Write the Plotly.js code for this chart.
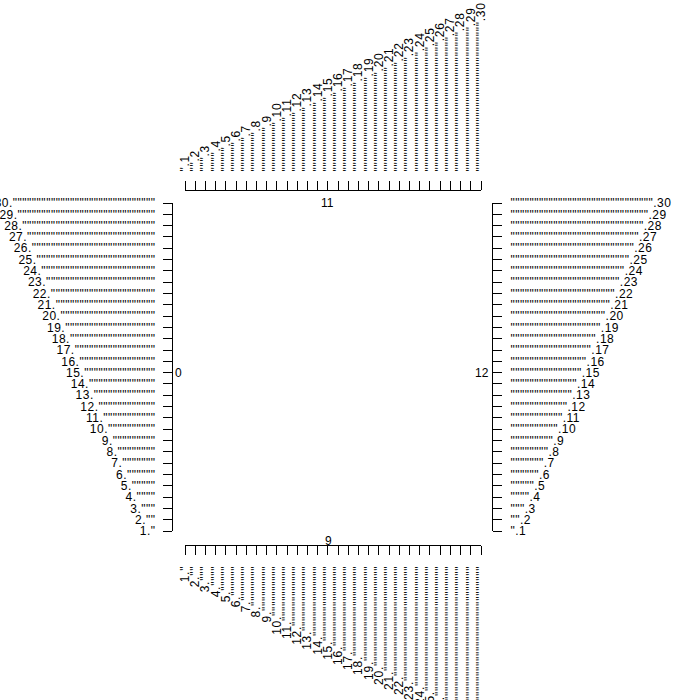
<!DOCTYPE html>
<html>
<head>
<meta charset="utf-8">
<script src="https://cdn.plot.ly/plotly-3.0.1.min.js"></script>
<style>
html,body{margin:0;padding:0;background:#fff;}
#chart{width:700px;height:700px;}
g.xtick text, g.x2tick text {letter-spacing:0.75px;}
g.ytick text, g.y2tick text {letter-spacing:0.5px;}
</style>
</head>
<body>
<div id="chart"></div>
<script>
// tick positions
var tickValues = [1,2,3,4,5,6,7,8,9,10,11,12,13,14,15,16,17,18,19,20,21,22,23,24,25,26,27,28,29,30];

// labels: number first (bottom & left axes)
var numFirstLabels = [
'1."',
'2.""',
'3."""',
'4.""""',
'5."""""',
'6.""""""',
'7."""""""',
'8.""""""""',
'9."""""""""',
'10.""""""""""',
'11."""""""""""',
'12.""""""""""""',
'13."""""""""""""',
'14.""""""""""""""',
'15."""""""""""""""',
'16.""""""""""""""""',
'17."""""""""""""""""',
'18.""""""""""""""""""',
'19."""""""""""""""""""',
'20.""""""""""""""""""""',
'21."""""""""""""""""""""',
'22.""""""""""""""""""""""',
'23."""""""""""""""""""""""',
'24.""""""""""""""""""""""""',
'25."""""""""""""""""""""""""',
'26.""""""""""""""""""""""""""',
'27."""""""""""""""""""""""""""',
'28.""""""""""""""""""""""""""""',
'29."""""""""""""""""""""""""""""',
'30.""""""""""""""""""""""""""""""'
];

// labels: quotes first (top & right axes)
var quoteFirstLabels = [
'".1',
'"".2',
'""".3',
'"""".4',
'""""".5',
'"""""".6',
'""""""".7',
'"""""""".8',
'""""""""".9',
'"""""""""".10',
'""""""""""".11',
'"""""""""""".12',
'""""""""""""".13',
'"""""""""""""".14',
'""""""""""""""".15',
'"""""""""""""""".16',
'""""""""""""""""".17',
'"""""""""""""""""".18',
'""""""""""""""""""".19',
'"""""""""""""""""""".20',
'""""""""""""""""""""".21',
'"""""""""""""""""""""".22',
'""""""""""""""""""""""".23',
'"""""""""""""""""""""""".24',
'""""""""""""""""""""""""".25',
'"""""""""""""""""""""""""".26',
'""""""""""""""""""""""""""".27',
'"""""""""""""""""""""""""""".28',
'""""""""""""""""""""""""""""".29',
'"""""""""""""""""""""""""""""".30'
];

// axis titles
var titleBottom = '9';
var titleLeft = '0';
var titleTop = '11';
var titleRight = '12';

var font = {family: 'Liberation Sans, Arial, sans-serif', size: 12, color: '#000'};

var traces = [
  {x: tickValues, y: tickValues, type: 'scatter', mode: 'markers', marker: {opacity: 0}, hoverinfo: 'skip', showlegend: false, xaxis: 'x', yaxis: 'y'},
  {x: tickValues, y: tickValues, type: 'scatter', mode: 'markers', marker: {opacity: 0}, hoverinfo: 'skip', showlegend: false, xaxis: 'x2', yaxis: 'y2'}
];

var pl = 172, pr = 492, pt = 190, pb = 545;
var W = pr - pl, H = pb - pt;
var xDom = [(185 - pl) / W, (481 - pl) / W];
var yDom = [(pb - 531) / H, (pb - 203) / H];

function axisBase() {
  return {
    range: [1, 30], fixedrange: true, showgrid: false, zeroline: false,
    showline: true, linecolor: '#000', linewidth: 1,
    ticks: 'outside', ticklen: 9, tickwidth: 1, tickcolor: '#000',
    tickmode: 'array', tickvals: tickValues, tickfont: font,
    automargin: false
  };
}

var xaxis = Object.assign(axisBase(), {domain: xDom, anchor: 'free', position: 0, side: 'bottom', ticktext: numFirstLabels, tickangle: -90, ticklabelstandoff: 6});
var yaxis = Object.assign(axisBase(), {domain: yDom, anchor: 'free', position: 0, side: 'left', ticktext: numFirstLabels, tickangle: 0, ticklabelstandoff: 5});
var xaxis2 = Object.assign(axisBase(), {overlaying: 'x', anchor: 'free', position: 1, side: 'top', ticktext: quoteFirstLabels, tickangle: -90, ticklabelstandoff: 7});
var yaxis2 = Object.assign(axisBase(), {overlaying: 'y', anchor: 'free', position: 1, side: 'right', ticktext: quoteFirstLabels, tickangle: 0, ticklabelstandoff: 6});

function px2x(px) { return (px - pl) / W; }
function px2y(py) { return (pb - py) / H; }

var annotations = [
  {text: titleLeft, x: px2x(178.5), y: px2y(373), xref: 'paper', yref: 'paper', showarrow: false, font: font, xanchor: 'center', yanchor: 'middle'},
  {text: titleRight, x: px2x(481.5), y: px2y(373), xref: 'paper', yref: 'paper', showarrow: false, font: font, xanchor: 'center', yanchor: 'middle'},
  {text: titleTop, x: px2x(327), y: px2y(203), xref: 'paper', yref: 'paper', showarrow: false, font: font, xanchor: 'center', yanchor: 'middle'},
  {text: titleBottom, x: px2x(328.5), y: px2y(541), xref: 'paper', yref: 'paper', showarrow: false, font: font, xanchor: 'center', yanchor: 'middle'}
];

var layout = {
  width: 700, height: 700,
  margin: {l: pl, r: 700 - pr, t: pt, b: 700 - pb, pad: 0, autoexpand: false},
  paper_bgcolor: '#fff', plot_bgcolor: 'rgba(0,0,0,0)',
  showlegend: false,
  font: font,
  xaxis: xaxis, yaxis: yaxis, xaxis2: xaxis2, yaxis2: yaxis2,
  annotations: annotations
};

Plotly.newPlot('chart', traces, layout, {displayModeBar: false, staticPlot: true});
</script>
</body>
</html>
